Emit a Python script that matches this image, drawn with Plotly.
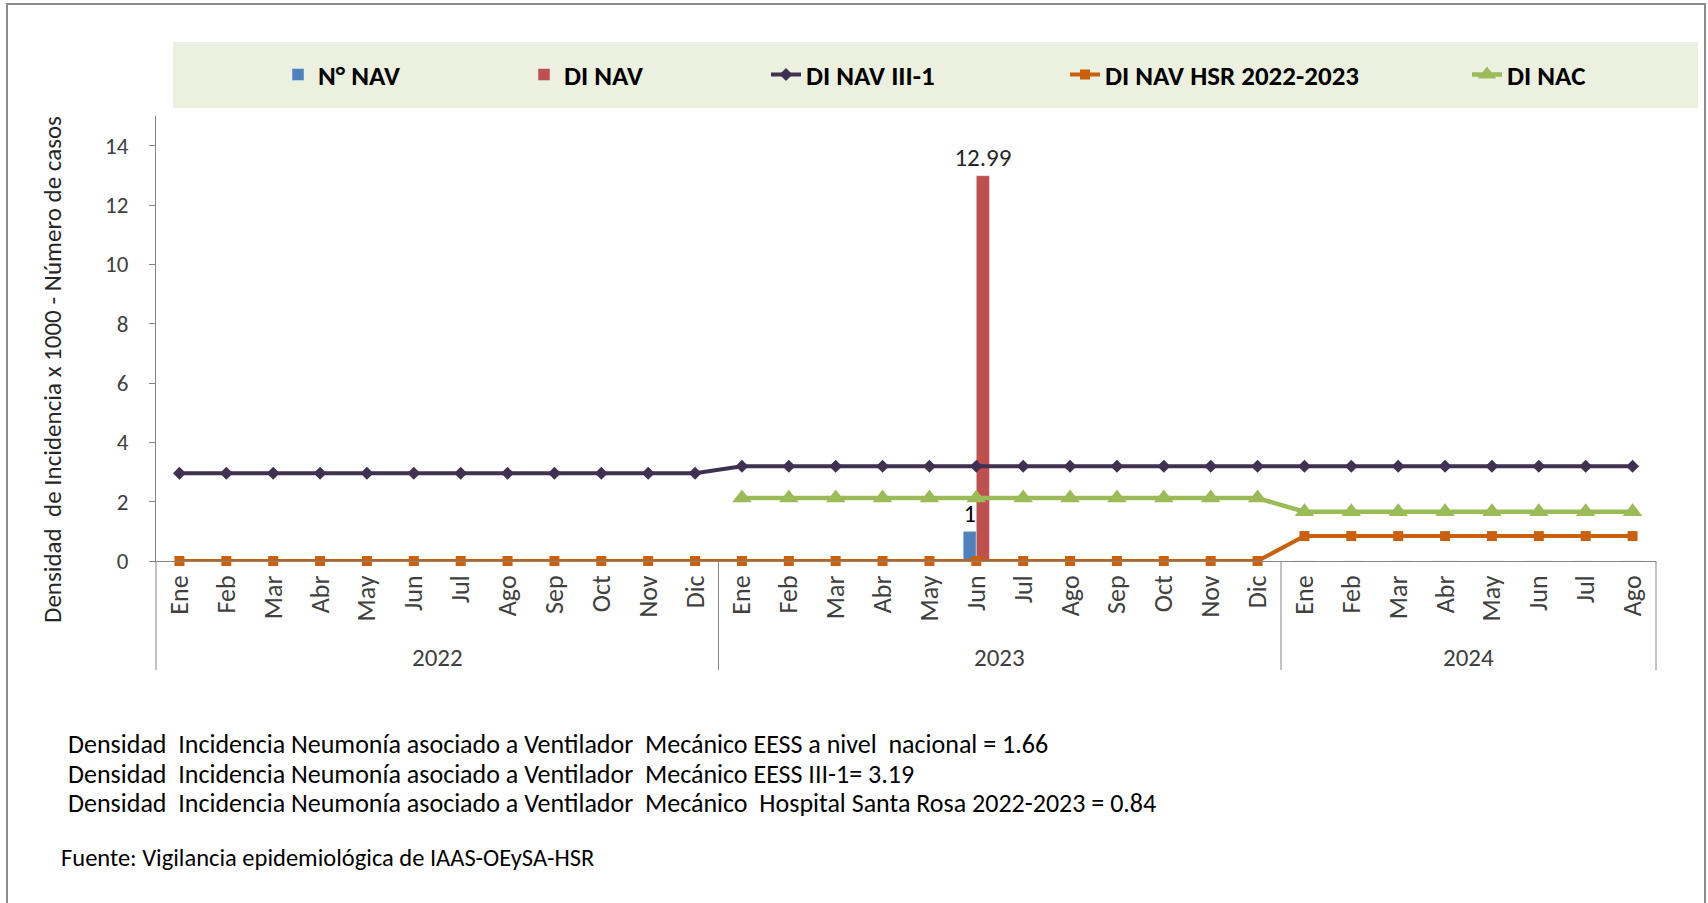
import plotly.graph_objects as go

# Categorias (meses por año)
years = ["2022", "2023", "2024"]
months_2022 = ["Ene", "Feb", "Mar", "Abr", "May", "Jun", "Jul", "Ago", "Sep", "Oct", "Nov", "Dic"]
months_2023 = ["Ene", "Feb", "Mar", "Abr", "May", "Jun", "Jul", "Ago", "Sep", "Oct", "Nov", "Dic"]
months_2024 = ["Ene", "Feb", "Mar", "Abr", "May", "Jun", "Jul", "Ago"]
months = months_2022 + months_2023 + months_2024

# Series
n_nav = [0, 0, 0, 0, 0, 0, 0, 0, 0, 0, 0, 0,
         0, 0, 0, 0, 0, 1, 0, 0, 0, 0, 0, 0,
         0, 0, 0, 0, 0, 0, 0, 0]
di_nav = [0, 0, 0, 0, 0, 0, 0, 0, 0, 0, 0, 0,
          0, 0, 0, 0, 0, 12.99, 0, 0, 0, 0, 0, 0,
          0, 0, 0, 0, 0, 0, 0, 0]
di_nav_iii1 = [2.96, 2.96, 2.96, 2.96, 2.96, 2.96, 2.96, 2.96, 2.96, 2.96, 2.96, 2.96,
               3.19, 3.19, 3.19, 3.19, 3.19, 3.19, 3.19, 3.19, 3.19, 3.19, 3.19, 3.19,
               3.19, 3.19, 3.19, 3.19, 3.19, 3.19, 3.19, 3.19]
di_nav_hsr = [0, 0, 0, 0, 0, 0, 0, 0, 0, 0, 0, 0,
              0, 0, 0, 0, 0, 0, 0, 0, 0, 0, 0, 0,
              0.84, 0.84, 0.84, 0.84, 0.84, 0.84, 0.84, 0.84]
di_nac = [None, None, None, None, None, None, None, None, None, None, None, None,
          2.12, 2.12, 2.12, 2.12, 2.12, 2.12, 2.12, 2.12, 2.12, 2.12, 2.12, 2.12,
          1.66, 1.66, 1.66, 1.66, 1.66, 1.66, 1.66, 1.66]

notes = [
    "Densidad\u00a0 Incidencia Neumonía asociado a Ventilador\u00a0 Mecánico EESS a nivel\u00a0 nacional = 1.66",
    "Densidad\u00a0 Incidencia Neumonía asociado a Ventilador\u00a0 Mecánico EESS III-1= 3.19",
    "Densidad\u00a0 Incidencia Neumonía asociado a Ventilador\u00a0 Mecánico\u00a0 Hospital Santa Rosa 2022-2023 = 0.84",
]
source = "Fuente: Vigilancia epidemiológica de IAAS-OEySA-HSR"

FONT = "Carlito, Lato, sans-serif"
TXT = "#404040"
x = list(range(len(months)))

fig = go.Figure()
fig.add_trace(go.Bar(
    x=x, y=n_nav, name="N° NAV", marker_color="#4F81BD",
    text=[f"{v:g}" if v else "" for v in n_nav], textposition="outside", constraintext="none",
    textfont=dict(size=24, color="#000000", family=FONT), legend="legend",
))
fig.add_trace(go.Bar(
    x=x, y=di_nav, name="DI NAV", marker_color="#C0504D",
    text=[f"{v:g}" if v else "" for v in di_nav], textposition="outside", constraintext="none",
    textfont=dict(size=25, color="#262626", family=FONT), legend="legend2",
))
fig.add_trace(go.Scatter(
    x=x, y=di_nav_iii1, name="DI NAV III-1", mode="lines+markers", cliponaxis=False,
    line=dict(color="#403152", width=4),
    marker=dict(symbol="diamond", size=10, color="#403152"), legend="legend3",
))
fig.add_trace(go.Scatter(
    x=x, y=di_nav_hsr, name="DI NAV HSR 2022-2023", mode="lines+markers", cliponaxis=False,
    line=dict(color="#C8600E", width=4),
    marker=dict(symbol="square", size=10, color="#C8600E"), legend="legend4",
))
fig.add_trace(go.Scatter(
    x=x, y=di_nac, name="DI NAC", mode="lines+markers", cliponaxis=False,
    line=dict(color="#9BBB59", width=4.5),
    marker=dict(symbol="triangle-up", size=17, color="#9BBB59"), legend="legend5",
))

# plot area in pixels: left 156, right 1656, top 116, bottom 561
L, R, T, B = 156, 1656, 116, 561


def px(xp):
    return (xp - L) / (R - L)


def py(yp):
    return (B - yp) / (B - T)


legend_font = dict(family=FONT, size=27, color="#000000", weight="bold")
legend_cfg = dict(orientation="h", bgcolor="rgba(0,0,0,0)", font=legend_font,
                  xanchor="left", yanchor="middle", y=py(75))
fig.update_layout(
    showlegend=True,
    legend=dict(legend_cfg, x=px(278)),
    legend2=dict(legend_cfg, x=px(524)),
    legend3=dict(legend_cfg, x=px(766)),
    legend4=dict(legend_cfg, x=px(1065)),
    legend5=dict(legend_cfg, x=px(1467)),
)

shapes = [
    # outer frame
    dict(type="rect", xref="paper", yref="paper", x0=px(7), x1=px(1705), y0=py(910), y1=py(4),
         line=dict(color="#8C8C8C", width=2), fillcolor="rgba(0,0,0,0)", layer="below"),
    # legend background
    dict(type="rect", xref="paper", yref="paper", x0=px(173), x1=px(1698), y0=py(108), y1=py(42),
         line=dict(width=0), fillcolor="#EBF1DE", layer="below"),
    # category box edges
    dict(type="line", xref="paper", yref="paper", x0=0, x1=0, y0=0, y1=py(670),
         line=dict(color="#868686", width=1)),
    dict(type="line", xref="paper", yref="paper", x0=1, x1=1, y0=0, y1=py(670),
         line=dict(color="#868686", width=1)),
]
for xd in [len(months_2022) - 0.5, len(months_2022) + len(months_2023) - 0.5]:
    shapes.append(dict(type="line", xref="x", yref="paper", x0=xd, x1=xd, y0=0, y1=py(670),
                       line=dict(color="#868686", width=1)))

annotations = [
    dict(text="Densidad\u00a0 de Incidencia x 1000 - Número de casos", xref="paper", yref="paper",
         x=px(52), y=py(370), xanchor="center", yanchor="middle", textangle=-90, showarrow=False,
         font=dict(family=FONT, size=25, color="#262626")),
]
starts = [0, len(months_2022), len(months_2022) + len(months_2023), len(months)]
for i, yr in enumerate(years):
    annotations.append(dict(text=yr, xref="x", yref="paper", x=(starts[i] + starts[i + 1] - 1) / 2,
                            y=py(657), xanchor="center", yanchor="middle", showarrow=False,
                            font=dict(family=FONT, size=25, color=TXT)))
for i, t in enumerate(notes):
    annotations.append(dict(text=t, xref="paper", yref="paper", x=px(66), y=py(744 + 29.5 * i),
                            xanchor="left", yanchor="middle", showarrow=False,
                            font=dict(family=FONT, size=26, color="#000000")))
annotations.append(dict(text=source, xref="paper", yref="paper", x=px(59), y=py(858),
                        xanchor="left", yanchor="middle", showarrow=False,
                        font=dict(family=FONT, size=24.5, color="#000000")))

fig.update_layout(
    width=1708, height=903,
    margin=dict(l=L, r=1708 - R, t=T, b=903 - B),
    paper_bgcolor="white", plot_bgcolor="white",
    barmode="group", bargap=0.44, bargroupgap=0,
    font=dict(family=FONT, color=TXT),
    xaxis=dict(range=[-0.5, len(months) - 0.5], tickvals=x, ticktext=months, tickangle=-90,
               ticks="", showline=True, linecolor="#868686", linewidth=1, showgrid=False,
               zeroline=False, ticklabelstandoff=3, tickfont=dict(size=26, color=TXT, family=FONT)),
    yaxis=dict(range=[0, 15], tickvals=[0, 2, 4, 6, 8, 10, 12, 14], ticks="outside", ticklen=6,
               tickcolor="#868686", showline=True, linecolor="#868686", linewidth=1,
               showgrid=False, zeroline=False, ticklabelstandoff=16,
               tickfont=dict(size=23, color=TXT, family=FONT)),
    shapes=shapes,
    annotations=annotations,
)

fig.write_html("out.html", config={"displayModeBar": False},
               post_script="document.body.style.margin='0';")
